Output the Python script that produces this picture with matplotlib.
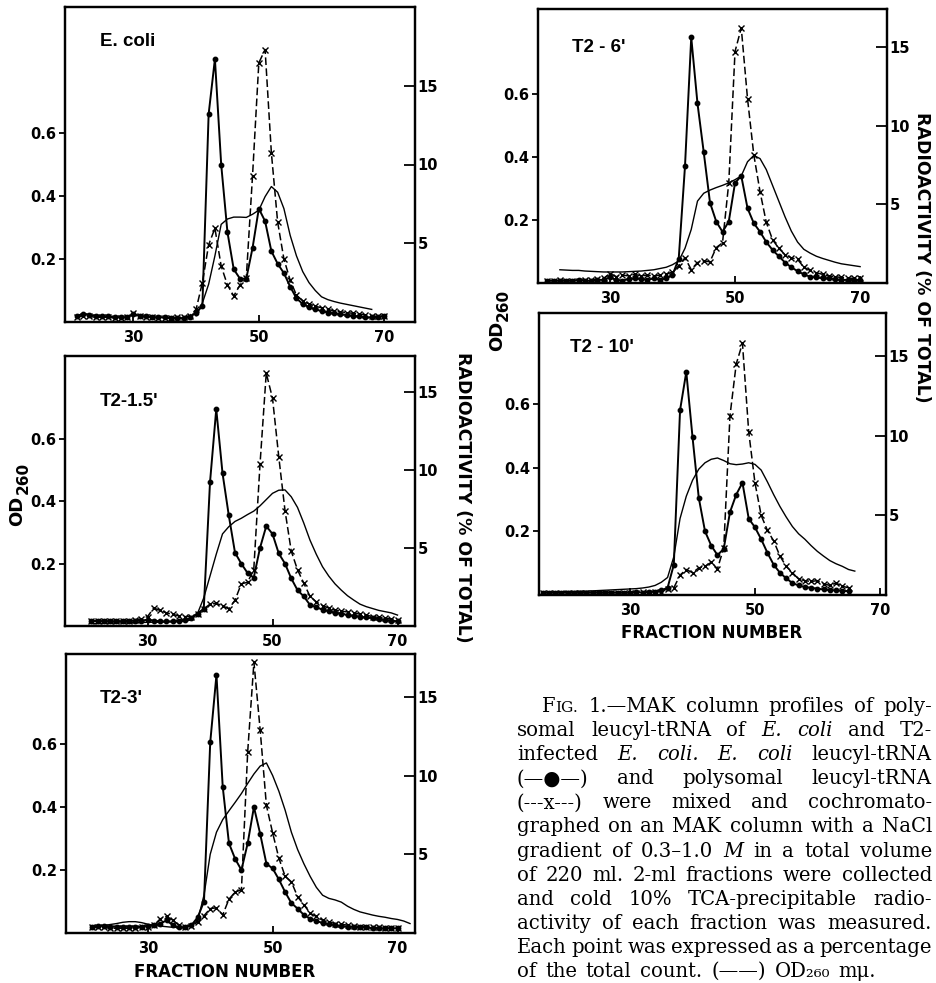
import matplotlib
matplotlib.use("Agg")
import matplotlib.pyplot as plt

# =========================
# 0. Global style config
# =========================
W_PX, H_PX = 936, 983
DPI = 100

SANS = "DejaVu Sans"
TITLE_FONT = ["Liberation Sans", "DejaVu Sans"]
SERIF = ["DejaVu Serif", "DejaVu Sans"]

TICK_SIZE = 10.5
TITLE_SIZE = 13.5
LABEL_SIZE = 12.5

SPINE_W = 1.6
OD_LW = 1.0
DOT_LW = 1.4
X_LW = 1.1

plt.rcParams.update({
    "font.family": SANS,
    "axes.linewidth": SPINE_W,
})

# =========================
# 1. Data
#    OD   : OD260 (left axis)
#    DOT  : E. coli leucyl-tRNA radioactivity, % of total (right axis)
#    CROSS: polysomal leucyl-tRNA radioactivity, % of total (right axis)
# =========================

# --- E. coli ---
ECOLI_START = 21
ECOLI_DOT = [0.4, 0.5, 0.45, 0.4, 0.35, 0.35, 0.3, 0.3, 0.3, 0.5,
             0.4, 0.35, 0.3, 0.3, 0.3, 0.25, 0.25, 0.25, 0.3, 0.6,
             1.0, 13.2, 16.7, 10.0, 5.7, 3.35, 2.75, 2.75, 4.7, 7.2,
             6.4, 4.5, 3.7, 3.1, 2.25, 1.5, 1.15, 0.95, 0.8, 0.7,
             0.6, 0.55, 0.5, 0.45, 0.4, 0.35, 0.3, 0.3, 0.3, 0.4]
ECOLI_CROSS = [0.3, 0.4, 0.35, 0.3, 0.3, 0.3, 0.25, 0.25, 0.3, 0.55,
               0.35, 0.3, 0.3, 0.25, 0.25, 0.25, 0.3, 0.3, 0.4, 0.8,
               2.5, 4.9, 5.95, 3.55, 2.35, 1.65, 2.35, 2.8, 9.3, 16.45,
               17.3, 10.75, 6.35, 4.0, 2.65, 1.7, 1.35, 1.15, 1.0, 0.9,
               0.8, 0.7, 0.65, 0.6, 0.55, 0.5, 0.45, 0.4, 0.35, 0.4]
ECOLI_OD_START = 40
ECOLI_OD = [0.02, 0.06, 0.12, 0.21, 0.31, 0.327, 0.333, 0.333, 0.332, 0.342,
            0.355, 0.398, 0.43, 0.412, 0.36, 0.275, 0.21, 0.16, 0.125, 0.10,
            0.08, 0.071, 0.065, 0.06, 0.056, 0.052, 0.048, 0.044, 0.04]

# --- T2-1.5' ---
T15_START = 21
T15_DOT = [0.3, 0.35, 0.3, 0.3, 0.3, 0.3, 0.3, 0.35, 0.35, 0.4,
           0.35, 0.3, 0.3, 0.3, 0.35, 0.4, 0.5, 0.8, 1.1, 9.2,
           13.9, 9.8, 7.1, 4.7, 4.0, 3.4, 3.1, 5.0, 6.4, 5.9,
           4.65, 4.0, 3.05, 2.3, 1.9, 1.35, 1.2, 1.05, 0.95, 0.85,
           0.8, 0.7, 0.65, 0.6, 0.55, 0.5, 0.45, 0.4, 0.35, 0.3]
T15_CROSS = [0.3, 0.3, 0.35, 0.3, 0.3, 0.35, 0.35, 0.4, 0.45, 0.6,
             1.15, 1.0, 0.85, 0.75, 0.65, 0.6, 0.6, 0.8, 1.1, 1.4,
             1.45, 1.3, 1.1, 1.65, 2.7, 2.8, 3.6, 10.35, 16.2, 14.6,
             10.85, 7.4, 4.8, 3.6, 2.75, 1.9, 1.55, 1.3, 1.15, 1.0,
             0.95, 0.9, 0.85, 0.75, 0.7, 0.6, 0.55, 0.5, 0.45, 0.4]
T15_OD_START = 21
T15_OD = [0.008, 0.008, 0.009, 0.009, 0.01, 0.01, 0.01, 0.011, 0.011, 0.012,
          0.012, 0.012, 0.013, 0.013, 0.014, 0.015, 0.02, 0.04, 0.09, 0.16,
          0.23, 0.295, 0.318, 0.335, 0.345, 0.357, 0.368, 0.385, 0.405, 0.425,
          0.435, 0.436, 0.414, 0.38, 0.33, 0.275, 0.23, 0.19, 0.16, 0.135,
          0.115, 0.097, 0.083, 0.07, 0.062, 0.056, 0.05, 0.046, 0.042, 0.035]

# --- T2-3' ---
T3_START = 21
T3_DOT = [0.4, 0.45, 0.45, 0.4, 0.4, 0.4, 0.4, 0.4, 0.4, 0.45,
          0.5, 0.6, 0.8, 0.5, 0.35, 0.35, 0.5, 1.0, 2.0, 12.1,
          16.4, 9.3, 5.7, 4.7, 4.0, 5.7, 8.0, 6.3, 4.4, 4.1,
          3.4, 2.6, 1.9, 1.55, 1.15, 0.9, 0.75, 0.65, 0.55, 0.5,
          0.45, 0.4, 0.4, 0.35, 0.35, 0.3, 0.3, 0.3, 0.3, 0.3]
T3_CROSS = [0.35, 0.35, 0.35, 0.3, 0.3, 0.3, 0.3, 0.3, 0.35, 0.4,
            0.5, 0.9, 1.05, 0.8, 0.5, 0.4, 0.45, 0.7, 1.1, 1.55,
            1.6, 1.15, 2.15, 2.6, 2.75, 11.5, 17.2, 12.9, 8.1, 6.35,
            4.75, 3.6, 3.25, 2.3, 1.8, 1.25, 1.05, 0.8, 0.7, 0.6,
            0.55, 0.5, 0.45, 0.4, 0.4, 0.35, 0.35, 0.3, 0.3, 0.3]
T3_OD_START = 21
T3_OD = [0.02, 0.022, 0.024, 0.027, 0.03, 0.034, 0.036, 0.036, 0.033, 0.028,
         0.024, 0.022, 0.02, 0.018, 0.018, 0.02, 0.025, 0.04, 0.12, 0.25,
         0.32, 0.36, 0.388, 0.415, 0.443, 0.475, 0.505, 0.53, 0.54, 0.50,
         0.45, 0.39, 0.32, 0.265, 0.22, 0.18, 0.145, 0.12, 0.11, 0.105,
         0.098, 0.085, 0.075, 0.067, 0.062, 0.057, 0.053, 0.05, 0.046, 0.043,
         0.038, 0.03]

# --- T2-6' ---
T6_START = 20
T6_DOT = [0.15, 0.15, 0.15, 0.15, 0.15, 0.2, 0.15, 0.15, 0.2, 0.2,
          0.35, 0.2, 0.15, 0.25, 0.3, 0.25, 0.2, 0.3, 0.2, 0.3,
          0.5, 1.55, 7.4, 15.6, 11.4, 8.3, 5.1, 3.9, 3.25, 3.9,
          6.35, 6.8, 4.75, 3.8, 3.25, 2.6, 2.1, 1.7, 1.3, 1.0,
          0.75, 0.55, 0.4, 0.35, 0.3, 0.3, 0.25, 0.2, 0.2, 0.2, 0.2]
T6_CROSS = [0.15, 0.15, 0.2, 0.15, 0.15, 0.15, 0.2, 0.2, 0.25, 0.3,
            0.6, 0.4, 0.5, 0.45, 0.55, 0.45, 0.5, 0.45, 0.5, 0.55,
            0.7, 1.1, 1.6, 0.85, 1.3, 1.4, 1.35, 2.25, 2.55, 6.35,
            14.7, 16.2, 11.7, 8.15, 5.8, 3.85, 2.75, 2.2, 1.8, 1.6,
            1.5, 1.0, 0.8, 0.65, 0.55, 0.45, 0.4, 0.35, 0.3, 0.3, 0.3]
T6_OD_START = 22
T6_OD = [0.042, 0.041, 0.04, 0.04, 0.038, 0.037, 0.036, 0.035, 0.035, 0.035,
         0.035, 0.036, 0.037, 0.038, 0.04, 0.042, 0.046, 0.05, 0.058, 0.07,
         0.11, 0.17, 0.26, 0.285, 0.295, 0.303, 0.31, 0.318, 0.328, 0.34,
         0.385, 0.405, 0.395, 0.36, 0.31, 0.26, 0.21, 0.165, 0.13, 0.107,
         0.095, 0.085, 0.078, 0.072, 0.066, 0.061, 0.058, 0.055, 0.052]

# --- T2-10' ---
T10_START = 16
T10_DOT = [0.15, 0.15, 0.15, 0.15, 0.15, 0.15, 0.15, 0.15, 0.15, 0.15,
           0.15, 0.15, 0.15, 0.15, 0.15, 0.2, 0.15, 0.2, 0.2, 0.3,
           0.45, 1.9, 11.6, 14.0, 9.9, 6.1, 4.0, 3.1, 2.5, 2.9,
           5.2, 6.3, 7.05, 4.8, 4.25, 3.5, 2.65, 1.9, 1.4, 1.05,
           0.75, 0.6, 0.5, 0.45, 0.4, 0.35, 0.3, 0.3, 0.25, 0.25]
T10_CROSS = [0.15, 0.15, 0.15, 0.15, 0.15, 0.15, 0.15, 0.15, 0.15, 0.15,
             0.15, 0.15, 0.15, 0.15, 0.15, 0.15, 0.2, 0.15, 0.2, 0.2,
             0.4, 0.45, 1.25, 1.6, 1.4, 1.7, 1.8, 2.05, 1.65, 2.95,
             11.25, 14.5, 15.8, 10.25, 7.05, 5.0, 4.05, 3.4, 2.45, 1.8,
             1.4, 1.0, 0.9, 0.85, 0.9, 0.7, 0.6, 0.75, 0.55, 0.45]
T10_OD_START = 16
T10_OD = [0.008, 0.009, 0.01, 0.01, 0.011, 0.011, 0.012, 0.012, 0.013, 0.014,
          0.015, 0.016, 0.017, 0.018, 0.019, 0.02, 0.022, 0.025, 0.03, 0.04,
          0.055, 0.12, 0.24, 0.31, 0.36, 0.395, 0.415, 0.426, 0.43, 0.422,
          0.412, 0.409, 0.411, 0.415, 0.41, 0.392, 0.355, 0.315, 0.278, 0.245,
          0.215, 0.192, 0.175, 0.155, 0.137, 0.122, 0.108, 0.098, 0.09, 0.08,
          0.075]

X_TICKS = [30, 50, 70]
OD_TICKS = [0.2, 0.4, 0.6]
RAD_TICKS = [5, 10, 15]
OD_TO_RAD = 20.0

# ^word -> small caps, _word_ -> italic
CAPTION_LINES = [
    "^FIG. 1.\u2014MAK column profiles of poly-",
    "somal leucyl-tRNA of _E._ _coli_ and T2-",
    "infected _E._ _coli._ _E._ _coli_ leucyl-tRNA",
    "(\u2014\u25cf\u2014) and polysomal leucyl-tRNA",
    "(---x---) were mixed and cochromato-",
    "graphed on an MAK column with a NaCl",
    "gradient of 0.3\u20131.0 _M_ in a total volume",
    "of 220 ml. 2-ml fractions were collected",
    "and cold 10% TCA-precipitable radio-",
    "activity of each fraction was measured.",
    "Each point was expressed as a percentage",
    "of the total count.  (\u2014\u2014) OD\u2082\u2086\u2080 m\u03bc.",
]

# =========================
# 2. Layout (pixel boxes: left, top, right, bottom)
# =========================
panels = [
    dict(title="E. coli", box=(65, 7, 415, 322), xlim=(19.1, 74.9), od_top=1.0,
         title_xy=(0.10, 0.89), start=ECOLI_START, dot=ECOLI_DOT, cross=ECOLI_CROSS,
         od_start=ECOLI_OD_START, od=ECOLI_OD),
    dict(title="T2-1.5'", box=(65, 356, 415, 626), xlim=(16.8, 72.8), od_top=0.865,
         title_xy=(0.10, 0.83), start=T15_START, dot=T15_DOT, cross=T15_CROSS,
         od_start=T15_OD_START, od=T15_OD),
    dict(title="T2-3'", box=(66, 654, 415, 933), xlim=(16.9, 72.8), od_top=0.886,
         title_xy=(0.097, 0.842), start=T3_START, dot=T3_DOT, cross=T3_CROSS,
         od_start=T3_OD_START, od=T3_OD),
    dict(title="T2 - 6'", box=(538, 9, 887, 283), xlim=(18.5, 74.3), od_top=0.87,
         title_xy=(0.097, 0.858), start=T6_START, dot=T6_DOT, cross=T6_CROSS,
         od_start=T6_OD_START, od=T6_OD),
    dict(title="T2 - 10'", box=(539, 313, 886, 595), xlim=(15.4, 71.0), od_top=0.885,
         title_xy=(0.089, 0.876), start=T10_START, dot=T10_DOT, cross=T10_CROSS,
         od_start=T10_OD_START, od=T10_OD),
]


def fx(x):
    return x / W_PX


def fy(y):
    return 1 - y / H_PX


def px_rect(l, t, r, b):
    return [fx(l), fy(b), (r - l) / W_PX, (b - t) / H_PX]


fig = plt.figure(figsize=(W_PX / DPI, H_PX / DPI), dpi=DPI)

for p in panels:
    ax = fig.add_axes(px_rect(*p["box"]))
    axr = ax.twinx()

    frac = list(range(p["start"], p["start"] + len(p["dot"])))
    od_frac = list(range(p["od_start"], p["od_start"] + len(p["od"])))

    # OD260: thin solid line
    ax.plot(od_frac, p["od"], color="black", linewidth=OD_LW, solid_joinstyle="round")

    # polysomal leucyl-tRNA: dashed with x
    axr.plot(frac, p["cross"], color="black", linewidth=X_LW, linestyle=(0, (5, 2.2)),
             marker="x", markersize=3.8, markeredgewidth=1.0)
    # E. coli leucyl-tRNA: solid with dots
    axr.plot(frac, p["dot"], color="black", linewidth=DOT_LW,
             marker="o", markersize=3.2)

    ax.set_xlim(*p["xlim"])
    ax.set_ylim(0, p["od_top"])
    axr.set_ylim(0, p["od_top"] * OD_TO_RAD)

    ax.set_xticks(X_TICKS, labels=[str(v) for v in X_TICKS],
                  fontweight="bold", fontsize=TICK_SIZE)
    ax.set_yticks(OD_TICKS, labels=[f"{v:.1f}" for v in OD_TICKS],
                  fontweight="bold", fontsize=TICK_SIZE)
    axr.set_yticks(RAD_TICKS, labels=[str(v) for v in RAD_TICKS],
                   fontweight="bold", fontsize=TICK_SIZE)

    ax.tick_params(axis="x", direction="in", length=5, width=1.3, pad=6)
    ax.tick_params(axis="y", direction="out", length=4, width=1.3, pad=2)
    axr.tick_params(axis="y", direction="in", length=8, width=1.3, pad=2)

    for a in (ax, axr):
        for s in a.spines.values():
            s.set_linewidth(SPINE_W)

    ax.text(p["title_xy"][0], p["title_xy"][1], p["title"], transform=ax.transAxes,
            fontsize=TITLE_SIZE, fontweight="bold", family=TITLE_FONT,
            ha="left", va="center")

# =========================
# 3. Axis labels
# =========================
for (ox, oy), (sx, sy) in [((17, 511), (23, 478)), ((497, 336), (503, 305))]:
    fig.text(fx(ox), fy(oy), "OD", rotation=90, fontsize=13, fontweight="bold",
             ha="center", va="center")
    fig.text(fx(sx), fy(sy), "260", rotation=90, fontsize=11, fontweight="bold",
             ha="center", va="center")

for cx, cy in [(463, 497), (922, 257)]:
    fig.text(fx(cx), fy(cy), "RADIOACTIVITY (% OF TOTAL)", rotation=-90,
             fontsize=LABEL_SIZE, fontweight="bold", ha="center", va="center")

for cx, cy in [(225, 972), (712, 633)]:
    fig.text(fx(cx), fy(cy), "FRACTION NUMBER", fontsize=12, fontweight="bold",
             ha="center", va="center")

# =========================
# 4. Caption (justified lines)
# =========================
CAP_LEFT, CAP_INDENT, CAP_RIGHT = 517, 542, 932
CAP_BASE0, CAP_STEP = 712, 24.1
SMALLCAP = 0.78

renderer = fig.canvas.get_renderer()


def parse(line):
    words = []
    for w in line.split(" "):
        if w == "":
            continue
        if len(w) > 2 and w.startswith("_") and w.endswith("_"):
            words.append((w[1:-1], "italic"))
        elif w.startswith("^"):
            words.append((w[1:], "smallcaps"))
        else:
            words.append((w, "normal"))
    return words


def raw_width(s, style, size):
    t = fig.text(0, 0, s, fontsize=size, style=style, family=SERIF)
    w = t.get_window_extent(renderer).width
    t.remove()
    return w


def text_width(s, style, size):
    if style == "smallcaps":
        return raw_width(s[0], "normal", size) + raw_width(s[1:], "normal", size * SMALLCAP)
    return raw_width(s, style, size)


def draw_word(x, y, s, style, size):
    if style == "smallcaps":
        fig.text(fx(x), fy(y), s[0], fontsize=size, family=SERIF, ha="left", va="baseline")
        x2 = x + raw_width(s[0], "normal", size)
        fig.text(fx(x2), fy(y), s[1:], fontsize=size * SMALLCAP, family=SERIF,
                 ha="left", va="baseline")
    else:
        fig.text(fx(x), fy(y), s, fontsize=size, style=style, family=SERIF,
                 ha="left", va="baseline")


lines = [parse(l) for l in CAPTION_LINES]

# pick a size such that every justified line fits with a minimum gap
ref = 10.0
space_ref = raw_width("a a", "normal", ref) - raw_width("aa", "normal", ref)
scale = 10.0
for i, words in enumerate(lines[:-1]):
    left = CAP_INDENT if i == 0 else CAP_LEFT
    natural = sum(text_width(w, s, ref) for w, s in words) + 0.7 * space_ref * (len(words) - 1)
    scale = min(scale, (CAP_RIGHT - left) / natural)
cap_size = ref * scale

space = raw_width("a a", "normal", cap_size) - raw_width("aa", "normal", cap_size)
for i, words in enumerate(lines):
    left = CAP_INDENT if i == 0 else CAP_LEFT
    widths = [text_width(w, s, cap_size) for w, s in words]
    if i < len(lines) - 1 and len(words) > 1:
        gap = (CAP_RIGHT - left - sum(widths)) / (len(words) - 1)
    else:
        gap = space * 1.4
    x = left
    y = CAP_BASE0 + i * CAP_STEP
    for (w, s), wd in zip(words, widths):
        draw_word(x, y, w, s, cap_size)
        x += wd + gap

fig.savefig("out.png", dpi=DPI)
